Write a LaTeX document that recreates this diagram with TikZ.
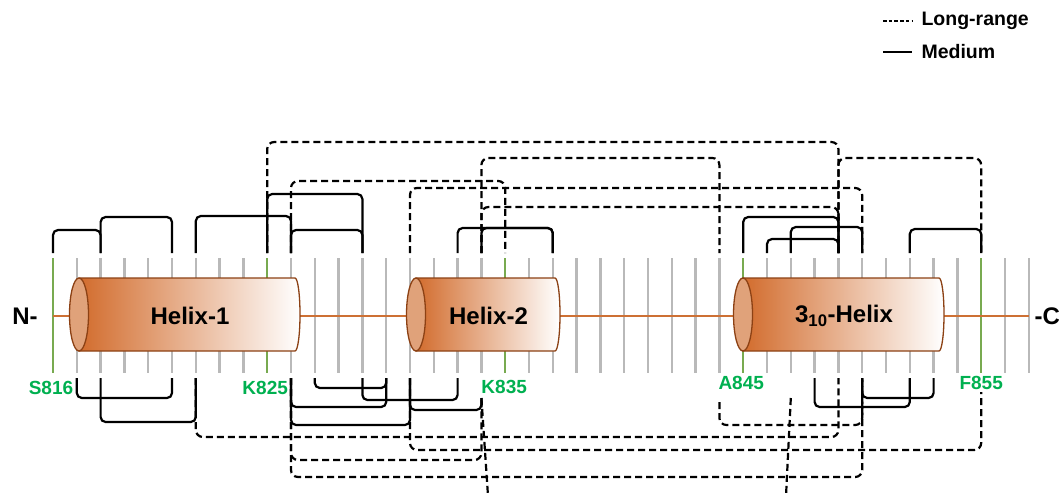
\documentclass[tikz,border=0pt]{standalone}
\usepackage{fontspec}
\setmainfont{Liberation Sans}
\usetikzlibrary{calc}
\definecolor{rodorange}{RGB}{210,108,45}
\definecolor{rodcapfill}{RGB}{224,162,122}
\definecolor{roddark}{RGB}{140,65,20}
\definecolor{chainorange}{RGB}{205,112,52}
\definecolor{tickgray}{RGB}{185,185,185}
\definecolor{tickgreen}{RGB}{120,170,80}
\definecolor{labelgreen}{RGB}{0,176,80}
\tikzset{
    restick/.style={line width=2.4pt, draw=tickgray},
    backbone/.style={line width=1.2pt, draw=chainorange},
    rodbody/.style={draw=roddark, line width=1.3pt, left color=rodorange,
        middle color=rodorange!55!white, right color=white},
    rodcap/.style={draw=roddark, line width=1.3pt, fill=rodcapfill},
    rodtext/.style={font=\fontsize{24}{28}\selectfont\bfseries},
    reslabel/.style={font=\fontsize{19}{22}\selectfont\bfseries, text=labelgreen},
    endlabel/.style={font=\fontsize{24}{28}\selectfont\bfseries},
    legendtext/.style={font=\fontsize{19.5}{23}\selectfont\bfseries, anchor=west},
    medbond/.style={line width=2.2pt, rounded corners=5pt},
    longbond/.style={line width=2.2pt, rounded corners=7pt, dash pattern=on 7pt off 4pt}
}
% bracket above / below the chain: [style]{from}{to}{level}
\newcommand{\topbond}[4][medbond]{\draw[#1] (t#2) -- (t#2 |- 0,#4) -- (t#3 |- 0,#4) -- (t#3);}
\newcommand{\botbond}[4][medbond]{\draw[#1] (b#2) -- (b#2 |- 0,#4) -- (b#3 |- 0,#4) -- (b#3);}
% helix cylinder: name, left x, right x, text
\newcommand{\helixrod}[4]{%
    \draw[rodbody] (#2+9,278) -- (#3-5,278)
        arc[start angle=90, end angle=-90, x radius=5pt, y radius=36.5pt] -- (#2+9,351) -- cycle;
    \draw[rodcap] (#2+9,314.5) ellipse [x radius=9.5pt, y radius=36.5pt];
    \node[rodtext] (#1) at ({(#2+#3)/2+5},316) {#4};
}

\begin{document}
\begin{tikzpicture}[x=1pt, y=-1pt]
    \useasboundingbox (0,0) rectangle (1059,493);

    % residues 816--857
    \foreach \r in {816,...,857} {
        \pgfmathsetmacro\xr{53+(\r-816)*23.8}
        \coordinate (t\r) at (\xr,253);
        \coordinate (b\r) at (\xr,378);
        \draw[restick] (\xr,258) -- (\xr,373);
    }
    \foreach \r in {816,825,835,845,855}
        \draw[restick, draw=tickgreen] ([yshift=-5pt]t\r) -- ([yshift=5pt]b\r);
    \draw[backbone] (t816 |- 0,316) -- (t857 |- 0,316);

    \helixrod{h1}{70}{300}{Helix-1}
    \helixrod{h2}{407}{560}{Helix-2}
    \helixrod{h3}{734}{944}{3\textsubscript{10}-Helix}

    \node[endlabel] (nterm) at (25,316) {N-};
    \node[endlabel, anchor=west] (cterm) at (1031,316) {-C};

    \node[reslabel] (s816) at ($(t816 |- 0,388)+(-2,0)$) {S816};
    \node[reslabel] (k825) at ($(t825 |- 0,388)+(-2,0)$) {K825};
    \node[reslabel] (k835) at ($(t835 |- 0,387)+(-1,0)$) {K835};
    \node[reslabel] (a845) at ($(t845 |- 0,383)+(-2,0)$) {A845};
    \node[reslabel] (f855) at (t855 |- 0,383) {F855};

    % bonds below start under the labels
    \coordinate (b834) at (t834 |- 0,398);
    \coordinate (b844) at (t844 |- 0,402);
    \coordinate (b847) at (t847 |- 0,398);
    \coordinate (b855) at (t855 |- 0,392);

    % medium range
    \topbond{816}{818}{230}
    \topbond{818}{821}{217}
    \topbond{822}{826}{216}
    \topbond{825}{829}{194}
    \topbond{826}{829}{230}
    \topbond{833}{837}{228}
    \topbond{834}{837}{228}
    \topbond{845}{849}{217}
    \topbond{846}{849}{239}
    \topbond{847}{850}{227}
    \topbond{852}{855}{229}
    \botbond{817}{821}{398}
    \botbond{818}{822}{422}
    \botbond{826}{830}{407}
    \botbond{826}{831}{425}
    \botbond{827}{830}{388}
    \botbond{829}{833}{400}
    \botbond{831}{834}{410}
    \botbond{848}{852}{407}
    \botbond{850}{853}{398}

    % long range
    \topbond[longbond]{825}{849}{142}
    \topbond[longbond]{826}{835}{181}
    \topbond[longbond]{831}{850}{188}
    \topbond[longbond]{834}{844}{158}
    \topbond[longbond]{834}{849}{207}
    \topbond[longbond]{849}{855}{158}
    \botbond[longbond]{822}{849}{437}
    \botbond[longbond]{826}{834}{460}
    \botbond[longbond]{826}{850}{477}
    \botbond[longbond]{831}{855}{450}
    \botbond[longbond]{844}{850}{425}
    \coordinate (cut834) at (488,496);
    \coordinate (cut847) at (786,496);
    \draw[longbond] (b834) -- (cut834);
    \draw[longbond] (b847) -- (cut847);

    % legend
    \node[legendtext] (lrtext) at (918,21) {Long-range};
    \node[legendtext] (medtext) at (918,52) {Medium};
    \draw[line width=1.4pt, dash pattern=on 3.5pt off 2.2pt]
        ([xshift=-35pt]lrtext.west) -- ([xshift=-6pt]lrtext.west);
    \draw[line width=1.4pt] ([xshift=-35pt]medtext.west) -- ([xshift=-6pt]medtext.west);
\end{tikzpicture}
\end{document}
